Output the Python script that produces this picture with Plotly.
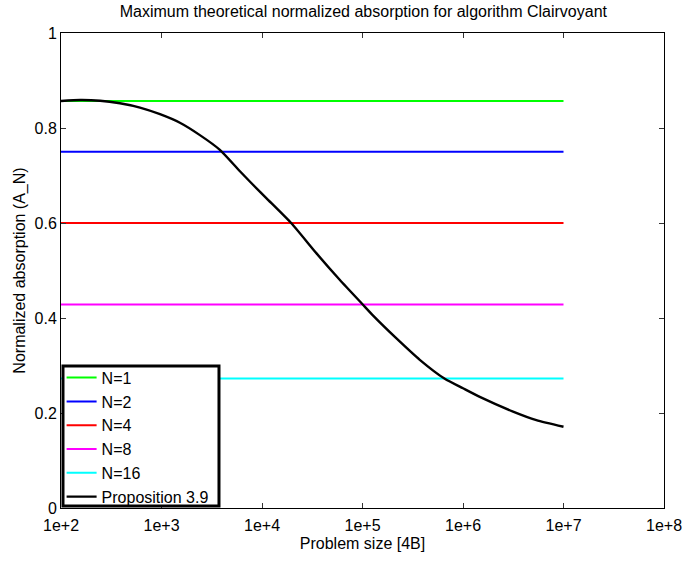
import plotly.graph_objects as go

# ---- data ----
line_x = [1e2, 1e7]
n_labels = ["N=1", "N=2", "N=4", "N=8", "N=16"]
n_values = [0.857, 0.75, 0.60, 0.4286, 0.2727]
n_colors = ["#00ff00", "#0000ff", "#ff0000", "#ff00ff", "#00ffff"]

prop_x = [100, 155, 245, 386, 611, 966, 1524, 2410, 3810, 6030, 8180,
          11100, 19700, 34900, 59600, 100000, 127600, 217800, 371500,
          659000, 1000000, 1469000, 3148000, 5370000, 10000000]
prop_y = [0.857, 0.859, 0.8575, 0.852, 0.843, 0.829, 0.811, 0.785, 0.754,
          0.709, 0.680, 0.652, 0.599, 0.536, 0.480, 0.429, 0.405, 0.357,
          0.312, 0.272, 0.252, 0.234, 0.203, 0.185, 0.171]

x_tickvals = [1e2, 1e3, 1e4, 1e5, 1e6, 1e7, 1e8]
x_ticktext = ["1e+2", "1e+3", "1e+4", "1e+5", "1e+6", "1e+7", "1e+8"]
y_tickvals = [0, 0.2, 0.4, 0.6, 0.8, 1]
y_ticktext = ["0", "0.2", "0.4", "0.6", "0.8", "1"]

FONT = "Liberation Sans, Arial, Helvetica, sans-serif"
FS = 16

fig = go.Figure()
for i, (lab, val, col) in enumerate(zip(n_labels, n_values, n_colors)):
    fig.add_trace(go.Scatter(x=line_x, y=[val, val], mode="lines", name=lab,
                             legendgroup=f"g{i}",
                             line=dict(color=col, width=2)))
fig.add_trace(go.Scatter(x=prop_x, y=prop_y, mode="lines", name="Proposition 3.9",
                         legendgroup="g5",
                         line=dict(color="black", width=2.4, shape="spline",
                                   smoothing=0.6)))

# legend box (white, above traces; legend text sits on top of it)
fig.add_shape(type="rect", xref="paper", yref="paper",
              x0=0.0033, x1=0.262, y0=0.0042, y1=0.299,
              fillcolor="white", line=dict(color="black", width=3), layer="above")

axis_common = dict(showline=True, linecolor="black", linewidth=1, mirror="ticks",
                   ticks="inside", ticklen=5, tickcolor="#333", showgrid=False,
                   zeroline=False, automargin=False,
                   tickfont=dict(family=FONT, size=FS, color="black"))

fig.update_layout(
    width=683, height=561,
    autosize=False,
    margin=dict(l=61, r=19, t=33, b=53, autoexpand=False),
    paper_bgcolor="white", plot_bgcolor="white",
    font=dict(family=FONT, size=FS, color="black"),
    title=dict(text="Maximum theoretical normalized absorption for algorithm Clairvoyant",
               x=0.532, xanchor="center", y=0.979, yanchor="middle",
               font=dict(family=FONT, size=FS, color="black")),
    xaxis=dict(type="log", range=[2, 8], tickvals=x_tickvals, ticktext=x_ticktext,
               ticklabelstandoff=3,
               title=dict(text="Problem size [4B]", standoff=4,
                          font=dict(family=FONT, size=FS)),
               **axis_common),
    yaxis=dict(range=[0, 1], tickvals=y_tickvals, ticktext=y_ticktext,
               title=dict(text="Normalized absorption (A_N)", standoff=4,
                          font=dict(family=FONT, size=FS)),
               **axis_common),
    legend=dict(x=0.001, y=-0.012, xanchor="left", yanchor="bottom",
                bgcolor="rgba(0,0,0,0)", borderwidth=0,
                font=dict(family=FONT, size=FS, color="black"),
                tracegroupgap=4, itemwidth=30, traceorder="normal"),
    showlegend=True,
)

fig.write_html("out.html", config={"displayModeBar": False, "responsive": False},
               post_script="document.body.style.margin='0';document.body.style.padding='0';document.body.style.overflow='hidden';")
